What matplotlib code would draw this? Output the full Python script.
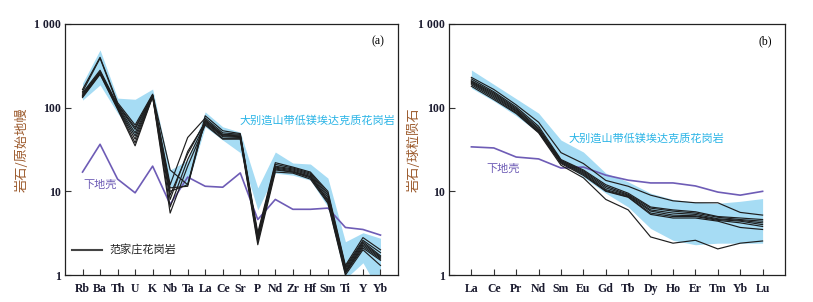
import numpy as np
import matplotlib.pyplot as plt

plt.rcParams['font.family'] = ['Liberation Serif', 'Noto Sans CJK SC']

# ---- panel (a): primitive mantle normalised spider diagram ----
spiderElems = ['Rb', 'Ba', 'Th', 'U', 'K', 'Nb', 'Ta', 'La', 'Ce', 'Sr',
               'P', 'Nd', 'Zr', 'Hf', 'Sm', 'Ti', 'Y', 'Yb']

fjzSpider = [
    [165, 400, 115, 62, 145, 18.0, 12.0, 80, 53, 49, 3.2, 22.0, 19.5, 17.0, 10.0, 1.30, 2.80, 2.00],
    [155, 390, 110, 58, 142, 12.0, 44.0, 75, 50, 48, 3.0, 21.0, 19.0, 16.5, 9.5, 1.25, 2.60, 1.85],
    [150, 280, 108, 55, 140, 11.0, 11.5, 72, 48, 47, 2.9, 20.0, 18.5, 16.0, 9.0, 1.20, 2.50, 1.70],
    [145, 270, 105, 50, 140, 10.0, 12.0, 70, 47, 46, 2.8, 19.5, 18.0, 15.5, 8.5, 1.15, 2.40, 1.65],
    [140, 265, 102, 46, 138, 9.0, 28.0, 68, 46, 45, 2.7, 19.0, 17.5, 15.0, 8.0, 1.10, 2.30, 1.60],
    [138, 260, 100, 42, 137, 8.0, 30.0, 66, 45, 44, 2.6, 18.5, 17.0, 15.0, 7.8, 1.08, 2.20, 1.55],
    [135, 255, 98, 38, 136, 6.5, 24.0, 64, 43, 43, 2.5, 18.0, 17.0, 14.5, 7.5, 1.05, 2.10, 1.50],
    [132, 250, 96, 35, 135, 5.5, 20.0, 62, 42, 42, 2.3, 17.0, 16.5, 14.0, 7.2, 1.00, 2.00, 1.30],
]
dabieSpiderHi = [196, 490, 130, 126, 167, 18.0, 23.6, 89, 59, 51, 11.0, 29.5, 21.8, 21.2, 14.4, 2.5, 3.2, 2.75]
dabieSpiderLo = [123, 187, 86, 45, 134, 11.0, 12.0, 59, 41, 29, 6.0, 16.5, 15.6, 13.6, 6.5, 0.9, 1.4, 0.6]
lowerCrustSpider = [17, 36.5, 14, 9.6, 20, 7.0, 14.8, 11.5, 11.2, 16.6, 4.6, 8.0, 6.1, 6.1, 6.3, 3.7, 3.5, 3.0]

# ---- panel (b): chondrite normalised REE pattern ----
reeElems = ['La', 'Ce', 'Pr', 'Nd', 'Sm', 'Eu', 'Gd', 'Tb', 'Dy', 'Ho', 'Er', 'Tm', 'Yb', 'Lu']

fjzRee = [
    [230, 165, 108, 67, 29.0, 21.5, 13.5, 11.5, 9.0, 7.7, 7.3, 7.3, 5.6, 5.2],
    [220, 155, 102, 60, 24.0, 18.0, 12.0, 9.5, 6.5, 6.0, 5.7, 5.0, 4.8, 4.6],
    [210, 150, 98, 57, 23.5, 17.5, 11.5, 9.2, 6.3, 5.8, 5.5, 4.9, 4.6, 4.4],
    [205, 145, 95, 55, 23.0, 17.0, 11.0, 9.0, 6.0, 5.5, 5.3, 4.7, 4.5, 4.2],
    [200, 140, 92, 53, 22.5, 16.5, 10.5, 8.8, 5.8, 5.2, 5.1, 4.6, 4.4, 4.0],
    [195, 135, 90, 52, 22.0, 16.0, 10.2, 8.6, 5.5, 5.0, 5.0, 4.5, 4.2, 3.8],
    [188, 130, 87, 51, 21.5, 15.5, 10.0, 8.5, 5.3, 4.8, 4.8, 4.4, 3.7, 3.5],
    [180, 125, 85, 50, 20.5, 14.5, 8.0, 6.0, 2.85, 2.4, 2.6, 2.05, 2.4, 2.55],
]
dabieReeHi = [282, 190, 128, 86, 41, 29.5, 16.5, 13.0, 9.5, 8.0, 7.4, 7.2, 7.6, 8.2]
dabieReeLo = [171, 120, 80, 50, 23.0, 14.8, 9.5, 6.5, 3.6, 2.6, 2.3, 2.4, 2.4, 2.4]
lowerCrustRee = [34, 33, 25.7, 24.4, 19.0, 19.5, 15.6, 13.6, 12.6, 12.6, 11.6, 9.8, 9.0, 10.0]

bandColor = '#a6dcf4'
bandTextColor = '#2ab4e6'
crustColor = '#6e5cb6'
lineColor = '#1e1e1e'
labelColor = '#9c5a2c'
cjk = ['Noto Sans CJK SC', 'DejaVu Sans']

fig = plt.figure(figsize=(8.13, 3.02), dpi=100)
axA = fig.add_axes([65 / 813, 27 / 302, 333 / 813, 251 / 302])
axB = fig.add_axes([449 / 813, 27 / 302, 336 / 813, 251 / 302])


def drawPanel(ax, elems, samples, bandHi, bandLo, crust):
    xs = np.arange(len(elems))
    ax.fill_between(xs, bandLo, bandHi, color=bandColor, linewidth=0, zorder=1)
    ax.plot(xs, crust, color=crustColor, linewidth=1.2, zorder=2)
    for s in samples:
        ax.plot(xs, s, color=lineColor, linewidth=0.85, zorder=3)
    ax.set_yscale('log')
    ax.set_ylim(1, 1000)
    ax.set_xlim(-1, len(elems))
    ax.set_xticks(xs)
    ax.set_xticklabels(elems, fontsize=8.5, fontweight='bold', color='#1a1a2e')
    ax.set_yticks([1, 10, 100, 1000])
    ax.set_yticklabels(['1', '10', '100', '1 000'], fontsize=8.5,
                       fontweight='bold', color='#1a1a2e')
    ax.minorticks_off()
    ax.tick_params(axis='both', direction='in', length=4, width=0.8, color='#333333')
    ax.tick_params(axis='x', pad=6)
    ax.tick_params(axis='y', pad=3)
    for sp in ax.spines.values():
        sp.set_linewidth(0.9)
        sp.set_color('#222222')


drawPanel(axA, spiderElems, fjzSpider, dabieSpiderHi, dabieSpiderLo, lowerCrustSpider)
drawPanel(axB, reeElems, fjzRee, dabieReeHi, dabieReeLo, lowerCrustRee)

axA.set_ylabel('岩石/原始地幔', family=cjk, fontsize=9.5, color=labelColor)
axB.set_ylabel('岩石/球粒陨石', family=cjk, fontsize=9.5, color=labelColor)
axA.yaxis.set_label_coords(-0.108, 0.5)
axB.yaxis.set_label_coords(-0.083, 0.5)

axA.text(0.96, 0.955, '(a)', transform=axA.transAxes, ha='right', va='top', fontsize=8.5)
axB.text(0.96, 0.955, '(b)', transform=axB.transAxes, ha='right', va='top', fontsize=8.5)

axA.text(0.525, 0.615, '大别造山带低镁埃达克质花岗岩', transform=axA.transAxes,
         family=cjk, fontsize=8, color=bandTextColor, ha='left', va='center')
axB.text(0.355, 0.545, '大别造山带低镁埃达克质花岗岩', transform=axB.transAxes,
         family=cjk, fontsize=8, color=bandTextColor, ha='left', va='center')
axA.text(0.055, 0.36, '下地壳', transform=axA.transAxes, family=cjk, fontsize=8,
         color=crustColor, ha='left', va='center')
axB.text(0.11, 0.425, '下地壳', transform=axB.transAxes, family=cjk, fontsize=8,
         color=crustColor, ha='left', va='center')

axA.plot([0.022, 0.11], [0.1, 0.1], transform=axA.transAxes, color='#444444', linewidth=1.5)
axA.text(0.132, 0.1, '范家庄花岗岩', transform=axA.transAxes, family=cjk, fontsize=8,
         color='#222222', ha='left', va='center')

fig.savefig('out.png', dpi=100)
